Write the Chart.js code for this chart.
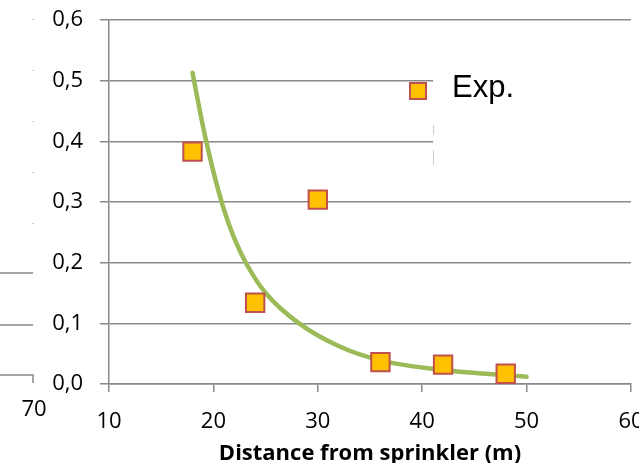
<!DOCTYPE html>
<html>
<head>
<meta charset="utf-8">
<script src="https://cdn.jsdelivr.net/npm/chart.js@4/dist/chart.umd.min.js"></script>
<style>
html, body { margin: 0; padding: 0; background: #fff; overflow: hidden; }
#wrap { width: 639px; height: 463px; overflow: hidden; }
</style>
</head>
<body>
<!-- canvas is a bit wider than the window: the picture is cropped on the right -->
<div id="wrap"><canvas id="distChart" width="646" height="463"></canvas></div>
<script>
// measured points
var expX = [18, 24, 30, 36, 42, 48];
var expY = [0.383, 0.134, 0.304, 0.036, 0.032, 0.017];
// trend line
var fitX = [18, 19, 20, 21, 22, 23.2, 25, 28.2, 32.2, 36, 42, 50];
var fitY = [0.513, 0.425, 0.350, 0.288, 0.240, 0.197, 0.150, 0.100, 0.061, 0.039, 0.023, 0.012];
var xTicks = [10, 20, 30, 40, 50, 60];
var yTicks = [0, 0.1, 0.2, 0.3, 0.4, 0.5, 0.6];
var legendLabel = 'Exp.';
var xTitle = 'Distance from sprinkler (m)';

var gridGrey = '#898989';
var tickFont = { family: 'Open Sans', size: 22 };

function pts(xs, ys) {
    return xs.map(function (x, i) { return { x: x, y: ys[i] }; });
}

// legend box and bits of the neighbouring chart
var extras = {
    id: 'extras',
    afterDraw: function (chart) {
        var c = chart.ctx;
        c.save();
        c.fillStyle = '#fff';
        c.fillRect(433, 50, 220, 115);
        c.strokeStyle = '#d0d0d0';
        c.lineWidth = 1;
        c.beginPath();
        c.moveTo(433.5, 125); c.lineTo(433.5, 135);
        c.moveTo(433.5, 150); c.lineTo(433.5, 165);
        c.stroke();

        c.fillStyle = '#FFC000';
        c.strokeStyle = '#C0504D';
        c.lineWidth = 2;
        c.fillRect(410, 83, 16, 16);
        c.strokeRect(410, 83, 16, 16);
        c.fillStyle = '#000';
        c.font = '31px "Liberation Sans"';
        c.textBaseline = 'alphabetic';
        c.fillText(legendLabel, 452, 97);

        c.strokeStyle = gridGrey;
        c.lineWidth = 1.5;
        c.beginPath();
        c.moveTo(0, 273); c.lineTo(33, 273);
        c.moveTo(0, 325); c.lineTo(33, 325);
        c.moveTo(0, 375); c.lineTo(33, 375); c.lineTo(33, 383);
        c.stroke();
        c.fillStyle = '#999';
        [19, 70, 121, 172, 223].forEach(function (y) { c.fillRect(32.5, y, 1, 1); });
        c.fillStyle = '#000';
        c.font = '22px "Open Sans"';
        c.textAlign = 'center';
        c.textBaseline = 'middle';
        c.fillText('70', 34, 410);
        c.restore();
    }
};

var ctx = document.getElementById('distChart').getContext('2d');
var distChart = new Chart(ctx, {
    type: 'scatter',
    data: {
        datasets: [{
            label: legendLabel,
            data: pts(expX, expY),
            showLine: false,
            pointStyle: 'rect',
            pointRadius: 13,
            pointHoverRadius: 13,
            pointBackgroundColor: '#FFC000',
            pointBorderColor: '#C0504D',
            pointBorderWidth: 2
        }, {
            label: 'fit',
            data: pts(fitX, fitY),
            showLine: true,
            pointRadius: 0,
            borderColor: '#9BBB59',
            borderWidth: 4.5,
            borderCapStyle: 'round',
            cubicInterpolationMode: 'monotone'
        }]
    },
    options: {
        responsive: false,
        animation: false,
        layout: { padding: { left: 0, right: 0, top: 20, bottom: 0 } },
        plugins: {
            legend: { display: false },
            tooltip: { enabled: false }
        },
        scales: {
            x: {
                type: 'linear',
                min: 10,
                max: 60,
                afterBuildTicks: function (s) { s.ticks = xTicks.map(function (v) { return { value: v }; }); },
                afterFit: function (s) { s.height = 79; s.paddingLeft = 0; s.paddingRight = 0; },
                ticks: { color: '#000', font: tickFont, padding: 17, maxRotation: 0 },
                grid: { drawOnChartArea: false, drawTicks: true, tickLength: 8, color: gridGrey, lineWidth: 1.5 },
                border: { color: gridGrey, width: 1.5 },
                title: {
                    display: true,
                    text: xTitle,
                    color: '#000',
                    font: { family: 'Open Sans', size: 22, weight: 'bold', lineHeight: 1 },
                    padding: { top: 0, bottom: -2 }
                }
            },
            y: {
                min: 0,
                max: 0.6,
                afterBuildTicks: function (s) { s.ticks = yTicks.map(function (v) { return { value: v }; }); },
                afterFit: function (s) { s.width = 109; s.paddingTop = 0; s.paddingBottom = 0; },
                ticks: {
                    color: '#000',
                    font: tickFont,
                    padding: 17,
                    callback: function (v) { return v.toFixed(1).replace('.', ','); }
                },
                grid: { color: gridGrey, lineWidth: 1.5, tickLength: 9 },
                border: { color: gridGrey, width: 1.5 }
            }
        }
    },
    plugins: [extras]
});
</script>
</body>
</html>
